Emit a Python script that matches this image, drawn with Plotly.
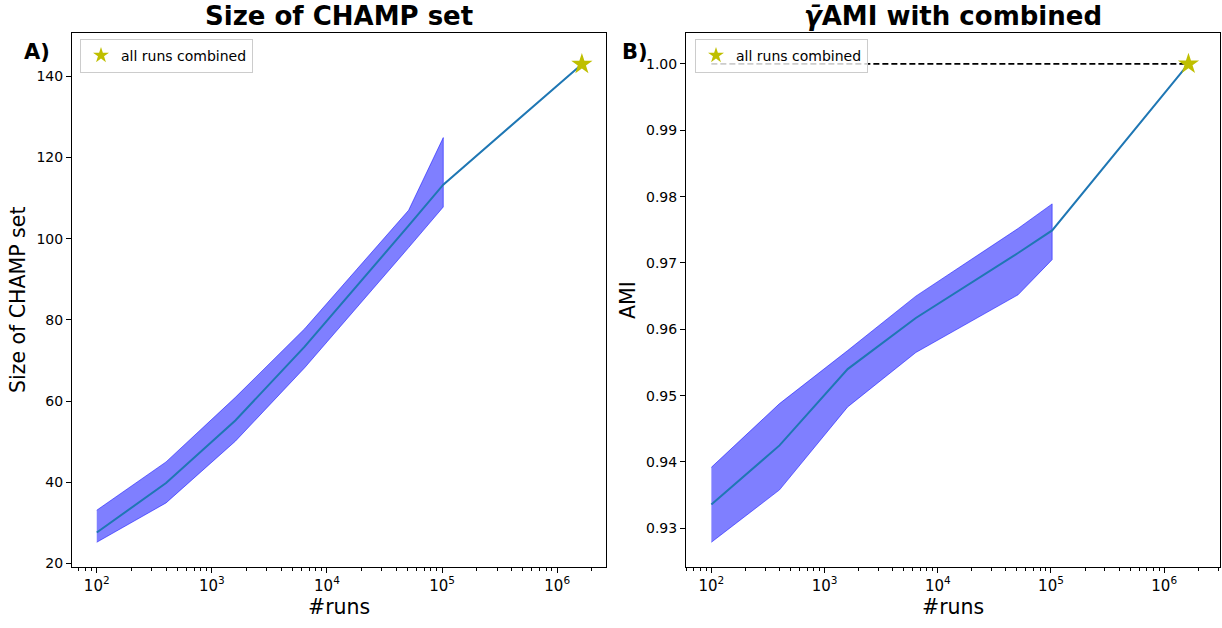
import plotly.graph_objects as go

# Number of runs sampled (final entry = all runs combined)
runs = [100, 400, 1600, 6400, 51200, 102400]
runs_all = 1638400

# Panel A: size of CHAMP set
champ_mean = [27.6, 39.8, 55.2, 73.4, 103.2, 113.3]
champ_upper = [33.1, 45.0, 60.9, 77.8, 107.0, 124.9]
champ_lower = [25.2, 34.9, 50.1, 68.2, 97.8, 107.8]
champ_all = 143.0

# Panel B: AMI with the combined partition
ami_mean = [0.9336, 0.9425, 0.9540, 0.9617, 0.9715, 0.9749]
ami_upper = [0.9392, 0.9488, 0.9568, 0.9650, 0.9752, 0.9789]
ami_lower = [0.9279, 0.9358, 0.9483, 0.9565, 0.9652, 0.9705]
ami_all = 1.0

W, H = 1222, 628
FONT = "DejaVu Sans"
BAND = "rgba(0,0,255,0.5)"
LINE = "#1f77b4"
STAR = "#bfbf00"


def px_x(p):
    return p / W


def px_y(p):
    return 1 - p / H


fig = go.Figure()


def add_panel(xa, ya, mean, upper, lower, final):
    # shaded band between lower and upper
    fig.add_trace(go.Scatter(
        x=runs + runs[::-1], y=upper + lower[::-1],
        fill="toself", fillcolor=BAND, mode="lines",
        line=dict(color=BAND, width=1), showlegend=False,
        xaxis=xa, yaxis=ya, hoverinfo="skip"))
    # mean curve continuing to the combined value
    fig.add_trace(go.Scatter(
        x=runs + [runs_all], y=mean + [final], mode="lines",
        line=dict(color=LINE, width=2), showlegend=False,
        xaxis=xa, yaxis=ya))


add_panel("x", "y", champ_mean, champ_upper, champ_lower, champ_all)
fig.add_trace(go.Scatter(
    x=[runs_all], y=[champ_all], mode="markers", name="all runs combined",
    marker=dict(symbol="star", size=16, color=STAR, line=dict(width=0)),
    xaxis="x", yaxis="y", legend="legend"))

add_panel("x2", "y2", ami_mean, ami_upper, ami_lower, ami_all)
fig.add_trace(go.Scatter(
    x=[runs[0], runs_all], y=[ami_all, ami_all], mode="lines",
    line=dict(color="black", width=1.8, dash="6px,3px"), showlegend=False,
    xaxis="x2", yaxis="y2"))
fig.add_trace(go.Scatter(
    x=[runs_all], y=[ami_all], mode="markers", name="all runs combined",
    marker=dict(symbol="star", size=16, color=STAR, line=dict(width=0)),
    xaxis="x2", yaxis="y2", legend="legend2"))

axis_common = dict(
    showline=True, linecolor="black", linewidth=1, mirror=True,
    ticks="outside", ticklen=5, tickwidth=1, tickcolor="black",
    showgrid=False, zeroline=False,
    tickfont=dict(family=FONT, size=14, color="black"),
)
xaxis_common = dict(
    axis_common, type="log", dtick=1, tick0=0, exponentformat="power",
    tickfont=dict(family=FONT, size=12, color="black"),
    minor=dict(ticks="outside", ticklen=2.5, tickwidth=1, tickcolor="black",
               dtick="D1", showgrid=False),
)

legend_common = dict(
    bgcolor="rgba(255,255,255,0.8)", bordercolor="#cccccc", borderwidth=1,
    font=dict(family=FONT, size=14, color="black"),
    xanchor="left", yanchor="top", itemsizing="constant",
)

fig.update_layout(
    width=W, height=H,
    margin=dict(l=0, r=0, t=0, b=0),
    paper_bgcolor="white", plot_bgcolor="white",
    font=dict(family=FONT, color="black"),
    xaxis=dict(xaxis_common, domain=[px_x(72), px_x(606)], range=[1.785, 6.424],
               anchor="y"),
    yaxis=dict(axis_common, domain=[px_y(571), px_y(33)], range=[19.02, 150.72],
               tickvals=[20, 40, 60, 80, 100, 120, 140], anchor="x"),
    xaxis2=dict(xaxis_common, domain=[px_x(686), px_x(1220)], range=[1.776, 6.493],
                anchor="y2"),
    yaxis2=dict(axis_common, domain=[px_y(571), px_y(33)], range=[0.92412, 1.00469],
                tickvals=[0.93, 0.94, 0.95, 0.96, 0.97, 0.98, 0.99, 1.00],
                tickformat=".2f", anchor="x2"),
    legend=dict(legend_common, x=px_x(80), y=px_y(39)),
    legend2=dict(legend_common, x=px_x(695), y=px_y(39)),
)

annotations = [
    dict(text="<b>Size of CHAMP set</b>", x=px_x(339), y=px_y(16), size=26),
    dict(text="<b><i>γ̄</i>AMI with combined</b>", x=px_x(953), y=px_y(16), size=26),
    dict(text="<b>A)</b>", x=px_x(37), y=px_y(52), size=21),
    dict(text="<b>B)</b>", x=px_x(635), y=px_y(52), size=21),
    dict(text="#runs", x=px_x(339), y=px_y(611), size=20.5),
    dict(text="#runs", x=px_x(953), y=px_y(611), size=20.5),
    dict(text="Size of CHAMP set", x=px_x(18), y=px_y(302), size=20.5, angle=-90),
    dict(text="AMI", x=px_x(628), y=px_y(302), size=20.5, angle=-90),
]
for a in annotations:
    fig.add_annotation(
        text=a["text"], x=a["x"], y=a["y"], xref="paper", yref="paper",
        xanchor="center", yanchor="middle", showarrow=False,
        textangle=a.get("angle", 0),
        font=dict(family=FONT, size=a["size"], color="black"))

fig.write_html("out.html")
